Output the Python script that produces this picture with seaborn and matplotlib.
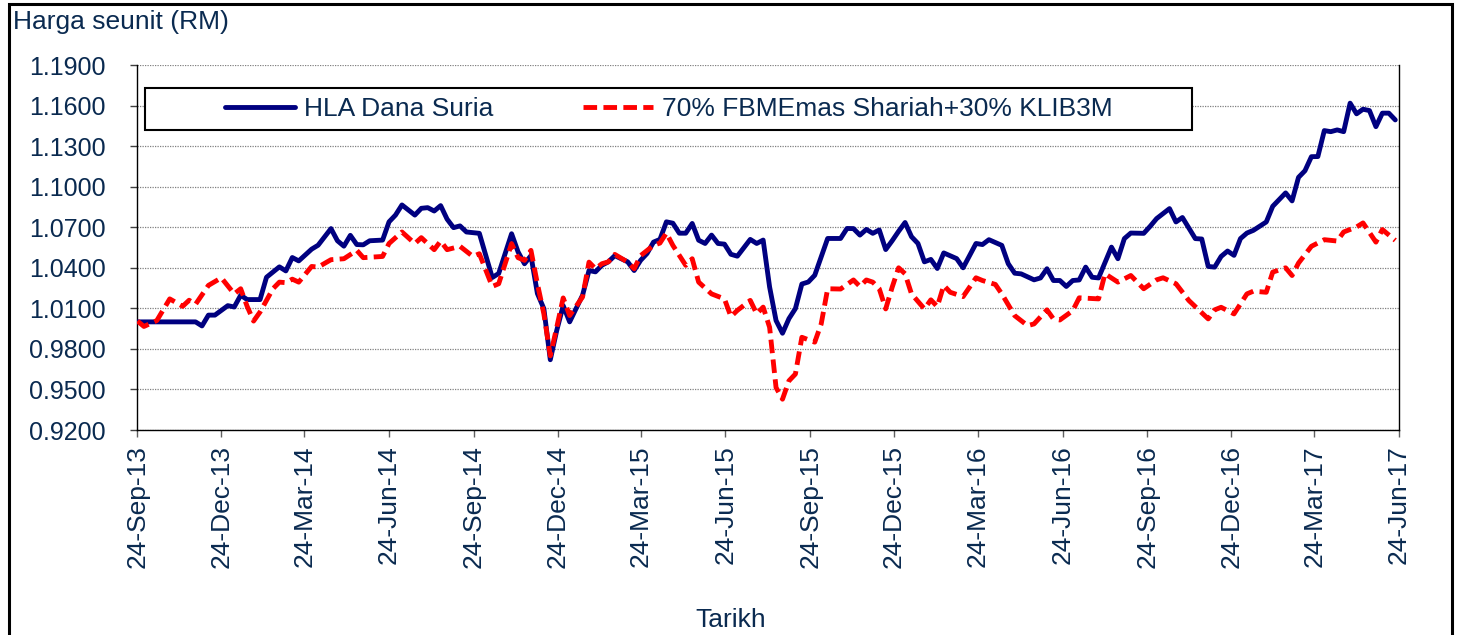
import pandas as pd
import matplotlib.pyplot as plt
import matplotlib.dates as mdates
from matplotlib.patches import Rectangle
from matplotlib.ticker import FormatStrFormatter
import seaborn as sns

# Weekly unit prices (week number counted from 24-Sep-13)
start_date = "2013-09-24"

fund_weeks = [
    0, 9, 10, 11, 12, 14, 15, 16, 17, 19, 20, 22, 23, 24, 25, 27, 28, 30, 31, 32,
    33, 34, 35, 36, 38, 39, 40, 41, 43, 44, 45, 46, 47, 48, 49, 50, 51, 53, 55, 56,
    58, 59, 60, 61, 62, 63, 64, 65, 66, 67, 69, 70, 71, 72, 73, 74, 76, 77, 78, 79,
    80, 81, 82, 83, 84, 85, 86, 87, 88, 89, 90, 91, 92, 93, 95, 96, 97, 98, 99, 100,
    101, 102, 103, 104, 105, 107, 109, 110, 111, 112, 113, 114, 115, 116, 117, 118,
    119, 120, 121, 122, 123, 124, 125, 127, 128, 130, 131, 132, 134, 135, 136, 137,
    139, 140, 141, 142, 143, 144, 145, 146, 147, 148, 149, 151, 152, 153, 154, 156,
    157, 158, 160, 161, 162, 164, 165, 166, 167, 168, 169, 170, 171, 172, 173, 175,
    176, 178, 179, 180, 181, 182, 183, 184, 185, 186, 187, 188, 189, 190, 191, 192,
    193, 194, 195,
]
fund_prices = [
    1.0000, 1.0000, 0.9970, 1.0050, 1.0050, 1.0120, 1.0110, 1.0197, 1.0165, 1.0165,
    1.0330, 1.0407, 1.0377, 1.0476, 1.0451, 1.0538, 1.0567, 1.0690, 1.0600, 1.0560,
    1.0640, 1.0572, 1.0570, 1.0600, 1.0605, 1.0740, 1.0790, 1.0865, 1.0790, 1.0840,
    1.0845, 1.0820, 1.0860, 1.0760, 1.0697, 1.0710, 1.0665, 1.0655, 1.0328, 1.0358,
    1.0652, 1.0518, 1.0430, 1.0490, 1.0210, 1.0098, 0.9720, 0.9937, 1.0120, 1.0000,
    1.0197, 1.0380, 1.0370, 1.0419, 1.0444, 1.0490, 1.0444, 1.0380, 1.0455, 1.0506,
    1.0590, 1.0610, 1.0740, 1.0730, 1.0656, 1.0656, 1.0728, 1.0604, 1.0580, 1.0642,
    1.0580, 1.0575, 1.0500, 1.0486, 1.0610, 1.0580, 1.0605, 1.0258, 1.0010, 0.9916,
    1.0024, 1.0098, 1.0280, 1.0295, 1.0345, 1.0617, 1.0617, 1.0691, 1.0690, 1.0642,
    1.0684, 1.0655, 1.0680, 1.0535, 1.0600, 1.0670, 1.0735, 1.0630, 1.0580, 1.0444,
    1.0462, 1.0395, 1.0510, 1.0468, 1.0400, 1.0580, 1.0572, 1.0608, 1.0566, 1.0430,
    1.0360, 1.0355, 1.0311, 1.0325, 1.0393, 1.0306, 1.0306, 1.0262, 1.0306, 1.0310,
    1.0405, 1.0330, 1.0325, 1.0553, 1.0467, 1.0616, 1.0657, 1.0655, 1.0707, 1.0764,
    1.0838, 1.0739, 1.0772, 1.0616, 1.0613, 1.0410, 1.0405, 1.0484, 1.0524, 1.0492,
    1.0616, 1.0657, 1.0677, 1.0739, 1.0855, 1.0954, 1.0895, 1.1069, 1.1118, 1.1222,
    1.1223, 1.1415, 1.1407, 1.1420, 1.1407, 1.1618, 1.1539, 1.1573, 1.1563, 1.1444,
    1.1544, 1.1544, 1.1494,
]

bench_weeks = [
    0, 1, 3, 5, 7, 8, 9, 11, 13, 15, 16, 17, 18, 19, 21, 22, 23, 24, 25, 27,
    28, 30, 32, 34, 35, 38, 39, 41, 43, 44, 46, 47, 48, 50, 52, 53, 55, 56, 58, 59,
    60, 61, 62, 63, 64, 65, 66, 67, 69, 70, 71, 72, 73, 74, 76, 77, 78, 80, 81, 82,
    83, 85, 86, 87, 89, 91, 92, 93, 95, 96, 97, 98, 99, 100, 101, 102, 103, 105, 106, 107,
    109, 111, 112, 113, 114, 115, 116, 117, 118, 119, 120, 122, 123, 124, 125, 126, 128, 130,
    131, 133, 134, 136, 138, 139, 141, 142, 143, 145, 146, 149, 150, 152, 154, 156, 158, 159,
    161, 163, 166, 167, 168, 170, 172, 173, 175, 176, 178, 179, 180, 182, 184, 186, 187, 189,
    190, 192, 193, 195,
]
bench_prices = [
    1.0006, 0.9966, 1.0010, 1.0170, 1.0115, 1.0160, 1.0130, 1.0270, 1.0326, 1.0207,
    1.0245, 1.0115, 1.0006, 1.0073, 1.0245, 1.0294, 1.0290, 1.0316, 1.0294, 1.0410,
    1.0405, 1.0460, 1.0467, 1.0529, 1.0475, 1.0484, 1.0580, 1.0665, 1.0579, 1.0623,
    1.0534, 1.0598, 1.0534, 1.0559, 1.0484, 1.0504, 1.0262, 1.0282, 1.0579, 1.0475,
    1.0455, 1.0529, 1.0282, 1.0060, 0.9749, 0.9960, 1.0177, 1.0047, 1.0184, 1.0442,
    1.0393, 1.0430, 1.0444, 1.0499, 1.0442, 1.0393, 1.0490, 1.0566, 1.0583, 1.0657,
    1.0566, 1.0418, 1.0467, 1.0294, 1.0207, 1.0170, 1.0039, 1.0085, 1.0159, 1.0060,
    1.0109, 0.9960, 0.9514, 0.9428, 0.9564, 0.9614, 0.9886, 0.9850, 0.9985, 1.0245,
    1.0243, 1.0310, 1.0262, 1.0310, 1.0294, 1.0245, 1.0096, 1.0256, 1.0400, 1.0356,
    1.0207, 1.0096, 1.0163, 1.0113, 1.0270, 1.0219, 1.0187, 1.0326, 1.0306, 1.0277,
    1.0207, 1.0046, 0.9972, 0.9985, 1.0089, 1.0022, 1.0014, 1.0083, 1.0178, 1.0170,
    1.0356, 1.0294, 1.0343, 1.0245, 1.0311, 1.0326, 1.0282, 1.0158, 1.0022, 1.0089,
    1.0108, 1.0059, 1.0207, 1.0227, 1.0219, 1.0368, 1.0400, 1.0343, 1.0435, 1.0559,
    1.0608, 1.0598, 1.0665, 1.0702, 1.0732, 1.0590, 1.0683, 1.0603,
]

fund_label = "HLA Dana Suria"
bench_label = "70% FBMEmas Shariah+30% KLIB3M"
# ticks on the 24th, every three months
tick_dates = pd.date_range("2013-09-01", periods=16, freq="3MS") + pd.Timedelta(days=23)

text_color = "#0a2a50"

sns.set_style("white")
plt.rcParams["font.family"] = ["Liberation Sans", "DejaVu Sans"]

t0 = pd.Timestamp(start_date)
fund_dates = t0 + pd.to_timedelta([w * 7 for w in fund_weeks], unit="D")
bench_dates = t0 + pd.to_timedelta([w * 7 for w in bench_weeks], unit="D")

fig = plt.figure(figsize=(14.58, 6.35), dpi=100)
ax = fig.add_axes([0.0943, 0.3228, 0.8652, 0.5748])

sns.lineplot(x=fund_dates, y=fund_prices, ax=ax, color="#000080", linewidth=3.5,
             label=fund_label, zorder=3)
sns.lineplot(x=bench_dates, y=bench_prices, ax=ax, color="#ff0000", linewidth=3.5,
             linestyle=(0, (2.8, 1.3)), label=bench_label, zorder=4)

ax.set_xlim(pd.Timestamp("2013-09-24"), pd.Timestamp("2017-06-24"))
ax.set_ylim(0.92, 1.19)
ax.set_yticks([0.92 + 0.03 * i for i in range(10)])
ax.yaxis.set_major_formatter(FormatStrFormatter("%.4f"))
ax.set_xticks(tick_dates)
ax.xaxis.set_major_formatter(mdates.DateFormatter("%d-%b-%y"))

ax.grid(axis="y", color="#808080", linestyle=(0, (1, 1)), linewidth=0.9)
ax.grid(axis="x", visible=False)
ax.set_axisbelow(True)

for side in ["left", "bottom", "right"]:
    ax.spines[side].set_visible(True)
    ax.spines[side].set_color("black")
    ax.spines[side].set_linewidth(1.0)
ax.spines["top"].set_visible(False)

ax.tick_params(axis="y", direction="out", length=5, width=1, color="#404040",
               pad=18, labelsize=18, labelcolor=text_color, left=True)
ax.tick_params(axis="x", direction="out", length=5, width=1, color="#606060",
               pad=6, labelsize=19, labelcolor=text_color, bottom=True,
               labelrotation=90)
ax.set_xlabel("")
ax.set_ylabel("")

# legend box
ax.add_patch(Rectangle((0.006, 0.822), 0.83, 0.116, transform=ax.transAxes,
                       facecolor="white", edgecolor="black", linewidth=1.5, zorder=5))
leg = ax.legend(loc="center left", bbox_to_anchor=(0.0694, 0.88), ncol=2,
                frameon=False, fontsize=19, handlelength=2.65, handletextpad=0.35,
                columnspacing=3.4, borderpad=0, borderaxespad=0)
leg.set_zorder(6)
for t in leg.get_texts():
    t.set_color(text_color)

fig.text(13 / 1458, 1 - 22 / 635, "Harga seunit (RM)", ha="left", va="center",
         fontsize=19, color=text_color)
fig.text(731 / 1458, 1 - 620 / 635, "Tarikh", ha="center", va="center",
         fontsize=19, color=text_color)

# outer chart frame
fig.add_artist(Rectangle((8.5 / 1458, -0.05), (1451.5 - 8.5) / 1458, 1.05 - 3.5 / 635,
                         transform=fig.transFigure, fill=False, edgecolor="black",
                         linewidth=2.2))

fig.savefig("out.png", dpi=100)
